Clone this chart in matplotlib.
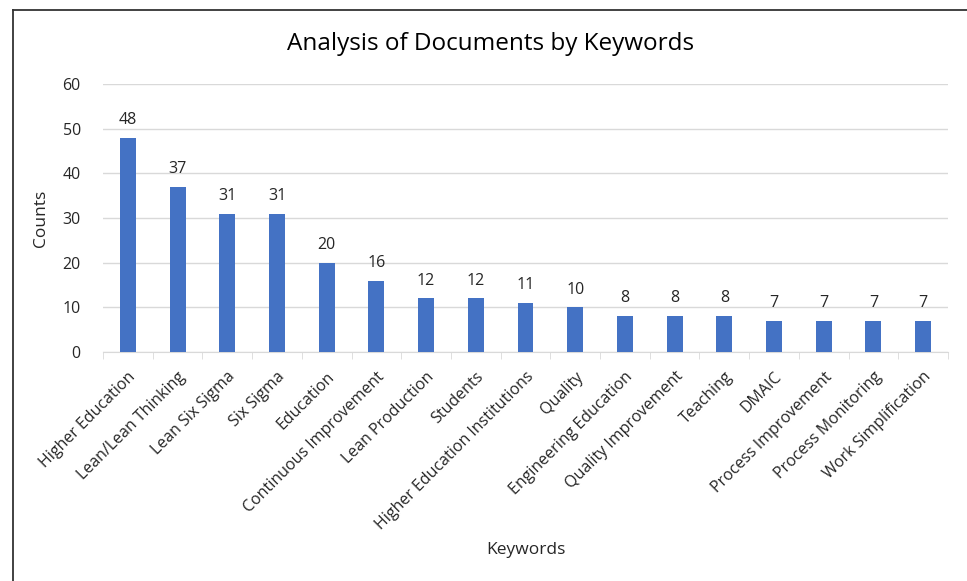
import matplotlib
matplotlib.use("Agg")
import matplotlib.pyplot as plt
from matplotlib.lines import Line2D

# keyword counts
keywords = ["Higher Education", "Lean/Lean Thinking", "Lean Six Sigma", "Six Sigma",
            "Education", "Continuous Improvement", "Lean Production", "Students",
            "Higher Education Institutions", "Quality", "Engineering Education",
            "Quality Improvement", "Teaching", "DMAIC", "Process Improvement",
            "Process Monitoring", "Work Simplification"]
counts = [48, 37, 31, 31, 20, 16, 12, 12, 11, 10, 8, 8, 8, 7, 7, 7, 7]
yticks = [0, 10, 20, 30, 40, 50, 60]

plt.rcParams['font.family'] = ['Open Sans', 'DejaVu Sans']

W, H = 967, 581
fig = plt.figure(figsize=(W / 100, H / 100), dpi=100)
ax = fig.add_axes([103 / W, (H - 352) / H, 845 / W, 268 / H])

x = range(len(keywords))
bars = ax.bar(x, counts, width=0.32, color="#4472C4", zorder=3)
for xi, c in zip(x, counts):
    ax.text(xi, c + 2.2, str(c), ha="center", va="bottom", fontsize=11.5, color="#262626")

ax.set_xlim(-0.5, len(keywords) - 0.5)
ax.set_ylim(0, 60)
ax.set_yticks(yticks)
ax.grid(axis="y", color="#D9D9D9", linewidth=1, zorder=0)
for s in ["top", "right", "left"]:
    ax.spines[s].set_visible(False)
ax.spines["bottom"].set_color("#D9D9D9")

ax.set_xticks(x)
ax.set_xticklabels(keywords, rotation=45, ha="right", rotation_mode="anchor",
                   fontsize=11.5, color="#262626")
ax.tick_params(axis="x", length=0, pad=12)
ax.tick_params(axis="y", length=0, labelsize=11.5, labelcolor="#262626", pad=16)
# minor ticks between categories
ax.set_xticks([i - 0.5 for i in range(len(keywords) + 1)], minor=True)
ax.tick_params(axis="x", which="minor", length=5, color="#D9D9D9")

ax.set_ylabel("Counts", fontsize=12.5, color="#262626", labelpad=10)
fig.text(526 / W, 1 - 550 / H, "Keywords", ha="center", va="center", fontsize=12.5, color="#262626")
fig.text(491 / W, 1 - 44 / H, "Analysis of Documents by Keywords", ha="center", va="center",
         fontsize=17.5, color="#000000")

# chart border
fig.add_artist(Line2D([13 / W, 13 / W], [0, 1 - 10 / H], color="#333333", lw=1.3))
fig.add_artist(Line2D([13 / W, 1], [1 - 10 / H, 1 - 10 / H], color="#333333", lw=1.3))

fig.savefig("out.png", dpi=100)
